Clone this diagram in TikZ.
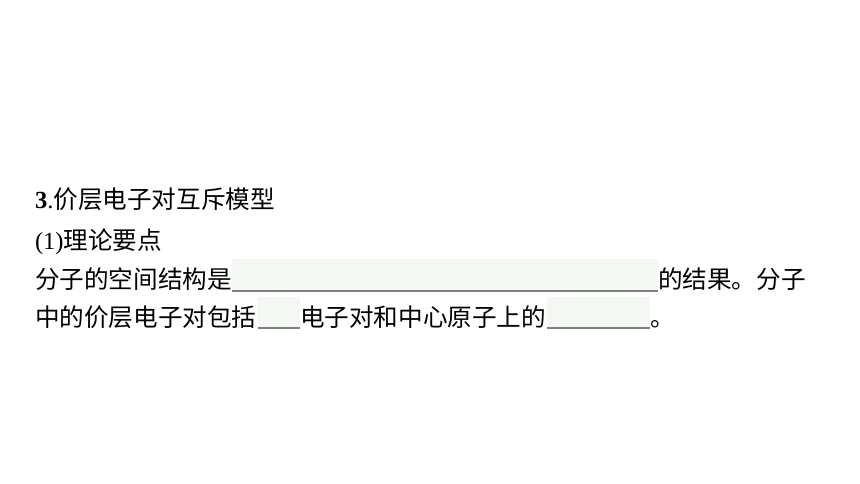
\documentclass[tikz,border=0pt]{standalone}
\usepackage{fontspec}
\setmainfont{Liberation Serif}
\newfontfamily\cjk{Noto Sans CJK SC}
\definecolor{blankfill}{HTML}{F4F8F3}
\definecolor{blankline}{HTML}{7F7F7F}
\tikzset{
  txt/.style={anchor=base west, inner sep=0pt, outer sep=0pt, font=\fontsize{24.6pt}{28pt}\selectfont, text=black},
  blankbox/.style={anchor=north west, inner sep=0pt, outer sep=0pt, fill=blankfill, draw=none},
  blankrule/.style={draw=blankline, line width=1.6pt}
}
\begin{document}
\begin{tikzpicture}[x=1pt,y=-1pt]
\useasboundingbox (0,0) rectangle (860,484);
% line 1
\node[txt] (l1) at (35,208.5) {\textbf{3}.\cjk 价层电子对互斥模型};
% line 2
\node[txt] (l2) at (35,249) {(1)\cjk 理论要点};
% line 3
\node[txt] (l3a) at (35,288.5) {\cjk 分子的空间结构是};
\node[blankbox, minimum width=426pt, minimum height=32pt] (b1) at (232,259) {};
\draw[blankrule] (b1.south west) -- (b1.south east);
\node[txt] (l3b) at (658,288.5) {\cjk 的结果。分子};
% line 4
\node[txt] (l4a) at (35,326.5) {\cjk 中的价层电子对包括};
\node[blankbox, minimum width=42pt, minimum height=31pt] (b2) at (258,297) {};
\draw[blankrule] (b2.south west) -- (b2.south east);
\node[txt] (l4b) at (300,326.5) {\cjk 电子对和中心原子上的};
\node[blankbox, minimum width=103pt, minimum height=31pt] (b3) at (547,297) {};
\draw[blankrule] (b3.south west) -- (b3.south east);
\node[txt] (l4c) at (650,326.5) {\cjk 。};
\end{tikzpicture}
\end{document}
